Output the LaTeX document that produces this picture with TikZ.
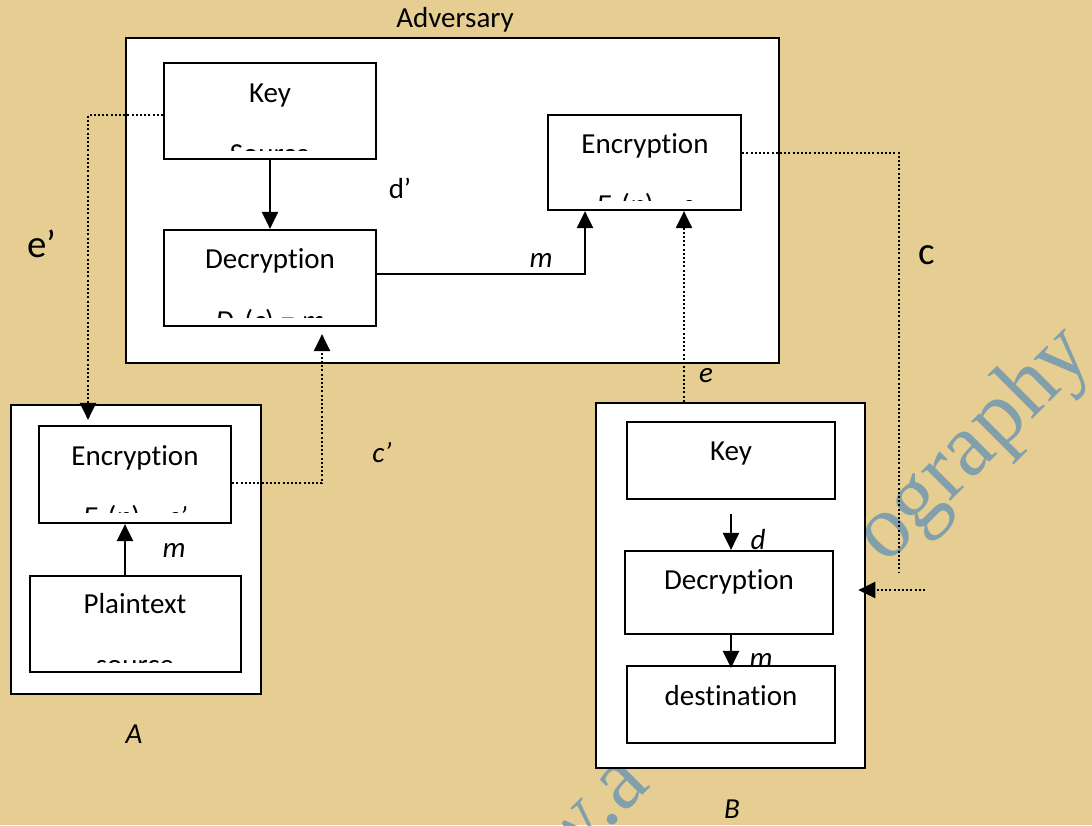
\documentclass[tikz,border=0pt]{standalone}
\usepackage{fontspec}
\setmainfont{Carlito}[Ligatures=NoCommon]
\newfontfamily\wmfont{Liberation Serif}
\usetikzlibrary{arrows.meta}
\definecolor{parch}{RGB}{230,206,146}
\definecolor{wmblue}{RGB}{112,152,176}
\begin{document}
\begin{tikzpicture}[x=1pt,y=-1pt,
  outer/.style={draw=black, line width=2.6pt, fill=white, inner sep=0pt},
  inbox/.style={draw=black, line width=2.2pt, fill=white, inner sep=0pt},
  txt/.style={font=\fontsize{29}{34}\selectfont, anchor=base, inner sep=0pt},
  lbl/.style={font=\fontsize{29}{34}\selectfont\itshape, anchor=base, inner sep=0pt},
  biglbl/.style={font=\fontsize{39}{46}\selectfont, anchor=base, inner sep=0pt},
  wm/.style={font=\fontsize{90}{100}\wmfont, text=wmblue, text opacity=0.85, inner sep=0pt},
  arr/.style={line width=2.6pt, -{Triangle[length=17pt,width=16pt]}},
  dotline/.style={line width=2.2pt, dash pattern=on 2pt off 2.2pt},
  dotarr/.style={dotline, -{Triangle[length=17pt,width=16pt]}}
]
\path[fill=parch] (0,0) rectangle (1092,825);
\useasboundingbox (0,0) rectangle (1092,825);

% watermark
\node[wm, anchor=base west, rotate=45] (wmb) at (886,566) {ography};
\node[wm, anchor=base east, rotate=45] (wma) at (652,786) {www.a};

% outer boxes
\node[outer, minimum width=653, minimum height=325] (adv) at (452.5,200.5) {};
\node[outer, minimum width=250, minimum height=289] (boxA) at (136,549.5) {};
\node[outer, minimum width=269, minimum height=365] (boxB) at (730.5,585.5) {};
\node[txt] (advT) at (455,27) {Adversary};

% adversary inner boxes
\node[inbox, minimum width=212, minimum height=96] (ks) at (270,111) {};
\node[inbox, minimum width=212, minimum height=96] (ad) at (270,278) {};
\node[inbox, minimum width=193, minimum height=95] (ae) at (644.5,162.5) {};
\node[txt] (ksT) at (270,102) {Key};
\node[txt] (adT) at (270,268) {Decryption};
\node[txt] (aeT) at (645,153) {Encryption};
\begin{scope}
  \clip (164,64) rectangle (376,150);
  \node[txt] (ksT2) at (270,163) {Source};
\end{scope}
\begin{scope}
  \clip (164,230) rectangle (376,317);
  \node[txt] (adT2) at (270,330) {\textit{D}\textsubscript{\textit{d}}(\textit{c}) = \textit{m}};
\end{scope}
\begin{scope}
  \clip (548,115) rectangle (741,200);
  \node[txt] (aeT2) at (645,214) {\textit{E}\textsubscript{\textit{e}}(\textit{p}) = \textit{c}};
\end{scope}

% A inner boxes
\node[inbox, minimum width=192, minimum height=97] (aenc) at (135,474.5) {};
\node[inbox, minimum width=211, minimum height=96] (aplain) at (135.5,624) {};
\node[txt] (aencT) at (135,465) {Encryption};
\node[txt] (aplainT) at (135,613) {Plaintext};
\begin{scope}
  \clip (39,426) rectangle (231,512);
  \node[txt] (aencT2) at (135,526) {\textit{E}\textsubscript{\textit{e}}(\textit{p}) = \textit{c’}};
\end{scope}
\begin{scope}
  \clip (30,576) rectangle (241,662);
  \node[txt] (aplainT2) at (135,674) {source};
\end{scope}

% B inner boxes
\node[inbox, minimum width=208, minimum height=77] (bkey) at (731,460.5) {};
\node[inbox, minimum width=208, minimum height=83] (bdec) at (729,592.5) {};
\node[inbox, minimum width=208, minimum height=77] (bdest) at (731,704.5) {};
\node[txt] (bkeyT) at (731,460) {Key};
\node[txt] (bdecT) at (729,589) {Decryption};
\node[txt] (bdestT) at (731,705) {destination};

% solid connectors
\draw[arr] (ks.south) -- (ad.north);
\coordinate (mturn) at (585,274);
\draw[arr] (ad.east |- mturn) -- (mturn) -- (ae.south -| mturn);
\coordinate (ax) at (125,0);
\draw[arr] (aplain.north -| ax) -- (aenc.south -| ax);
\coordinate (bx) at (731,0);
\draw[arr, shorten <=14pt] (bkey.south -| bx) -- (bdec.north -| bx);
\draw[arr] (bdec.south -| bx) -- ([yshift=-3pt]bdest.north -| bx);

% dotted connectors
\coordinate (ex) at (684,0);
\draw[dotarr] (boxB.north -| ex) -- (ae.south -| ex);
\coordinate (cy) at (0,153);
\coordinate (cturn) at (899,153);
\coordinate (cend) at (899,573);
\draw[dotline] (ae.east |- cy) -- (cturn) -- (cend);
\coordinate (cin) at (925,590);
\draw[dotarr] (cin) -- ([xshift=-8pt]boxB.east |- cin);
\coordinate (eturn) at (88,115);
\draw[dotarr, shorten >=5pt] (ks.west |- eturn) -- (eturn) -- (aenc.north -| eturn);
\coordinate (cpturn) at (322,483);
\draw[dotarr, shorten >=7pt] (aenc.east |- cpturn) -- (cpturn) -- (ad.south -| cpturn);

% labels
\node[biglbl] (lep) at (42,257) {e’};
\node[biglbl] (lc) at (927,264) {c};
\node[txt] (ldp) at (400,198) {d’};
\node[lbl] (lm1) at (541,267) {m};
\node[lbl] (lcp) at (382,462) {c’};
\node[lbl] (le) at (706,382) {e};
\node[lbl] (lm2) at (174,557) {m};
\node[lbl] (ld) at (758,549) {d};
\node[lbl] (lm3) at (761,667) {m};
\node[lbl] (lA) at (134,743) {A};
\node[lbl] (lB) at (732,818) {B};
\end{tikzpicture}
\end{document}
